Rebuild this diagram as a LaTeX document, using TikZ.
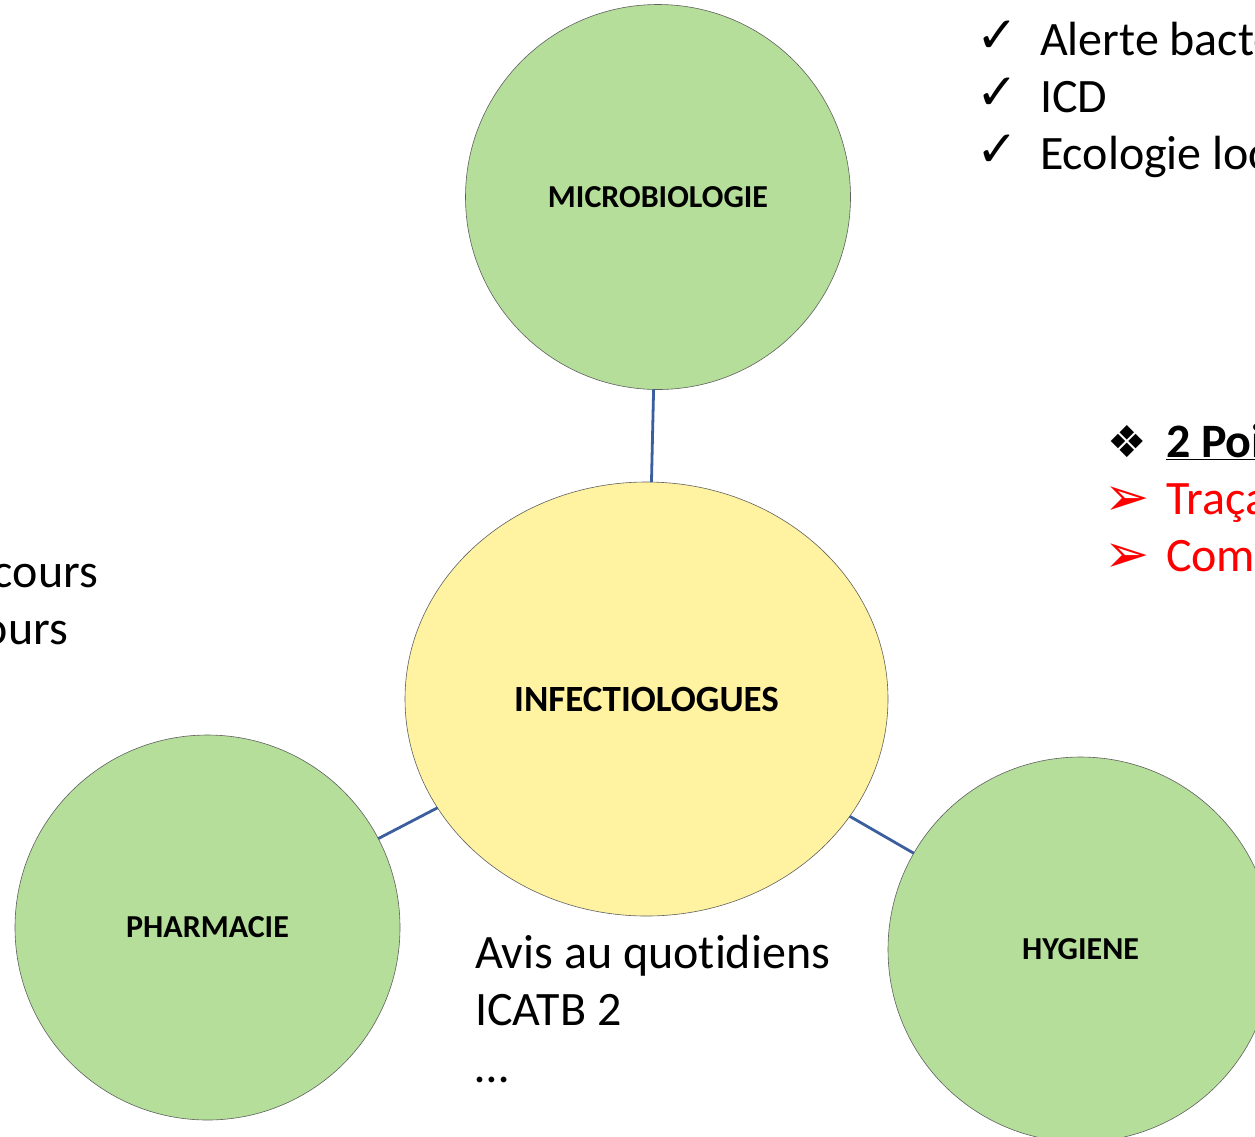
\documentclass[tikz,border=0pt]{standalone}
\usepackage{fontspec}
\setmainfont[Ligatures={NoCommon}]{Carlito}
\newfontfamily\symfont{DejaVu Sans}
\usetikzlibrary{shapes.geometric}
\definecolor{greenfill}{HTML}{B4DE99}
\definecolor{yellowfill}{HTML}{FFF2A1}
\definecolor{linkblue}{HTML}{3A5E9E}
\definecolor{borderc}{HTML}{606060}
\begin{document}
\begin{tikzpicture}[x=1pt,y=-1pt,
  bubble/.style={ellipse, draw=borderc, line width=0.6pt, inner sep=0pt, outer sep=0pt,
    font=\fontsize{32}{38}\selectfont\bfseries},
  greenbubble/.style={bubble, fill=greenfill, minimum width=385pt, minimum height=385pt},
  link/.style={draw=linkblue, line width=2.8pt},
  big/.style={font=\fontsize{48}{57}\selectfont, inner sep=0pt, outer sep=0pt},
  sym/.style={font=\symfont\fontsize{44}{46}\selectfont, inner sep=0pt, outer sep=0pt},
  chk/.style={font=\symfont\fontsize{50}{52}\selectfont, inner sep=0pt, outer sep=0pt},
]
\useasboundingbox (0,0) rectangle (1255,1136);
\clip (0,0) rectangle (1255,1136);
\fill[white] (0,0) rectangle (1255,1136);

\node[greenbubble] (micro) at (658,197) {MICROBIOLOGIE};
\node[bubble, fill=yellowfill, minimum width=483pt, minimum height=434pt,
      font=\fontsize{37}{44}\selectfont\bfseries] (infect) at (646.5,699) {INFECTIOLOGUES};
\node[greenbubble] (pharma) at (207.5,927.5) {PHARMACIE};
\node[greenbubble] (hyg) at (1080.5,949.5) {HYGIENE};

\draw[link] (micro) -- (infect);
\draw[link] (pharma) -- (infect);
\draw[link] (hyg) -- (infect);

% check list
\node[chk, anchor=base west] (chk1) at (976,52) {✓};
\node[chk, anchor=base west] (chk2) at (976,109) {✓};
\node[chk, anchor=base west] (chk3) at (976,166) {✓};
\node[big, anchor=base west] (alerte) at (1040,55) {Alerte bactériologique};
\node[big, anchor=base west] (icd) at (1040,112) {ICD};
\node[big, anchor=base west] (eco) at (1040,169) {Ecologie locale};

% points
\node[sym, anchor=base west] (dia) at (1107,457) {❖};
\node[big, font=\fontsize{48}{57}\selectfont\bfseries, anchor=base west] (points) at (1166,457) {\underline{2 Points forts}};
\node[sym, text=red, font=\symfont\fontsize{54}{56}\selectfont, anchor=base west] (arr1) at (1104,515) {➢};
\node[sym, text=red, font=\symfont\fontsize{54}{56}\selectfont, anchor=base west] (arr2) at (1104,572) {➢};
\node[big, text=red, anchor=base west] (trac) at (1166,514) {Traçabilité};
\node[big, text=red, anchor=base west] (comm) at (1166,571) {Communication};

% left
\node[big, anchor=base east] (cours) at (98,587) {Parcours};
\node[big, anchor=base east] (ours) at (68,644) {Retours};

% bottom
\node[big, anchor=base west] (avis) at (475,968) {Avis au quotidiens};
\node[big, anchor=base west] (icatb) at (475,1025) {ICATB 2};
\node[big, anchor=base west] (dots) at (475,1082) {…};
\end{tikzpicture}
\end{document}
